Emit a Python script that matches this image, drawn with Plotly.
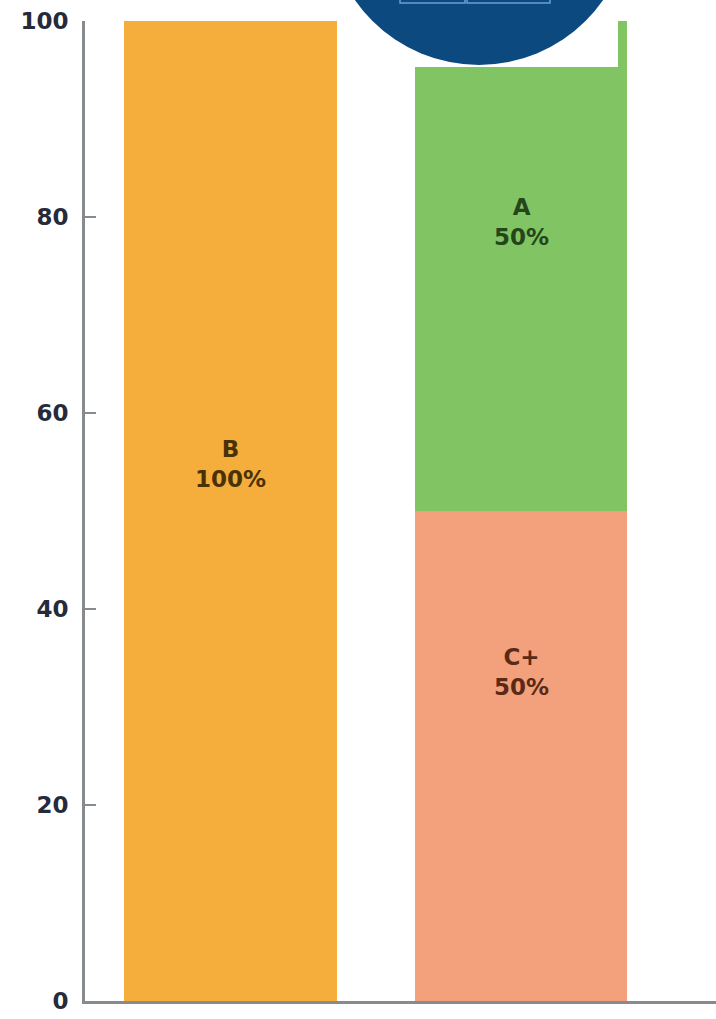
import plotly.graph_objects as go

# Grade distribution per group (percent of students)
groups = [0, 1]
grade_b = [100, 0]
grade_c_plus = [0, 50]
grade_a = [0, 50]
y_ticks = [0, 20, 40, 60, 80, 100]

orange = "#F5AE3C"
green = "#81C464"
salmon = "#F2A17C"
axis_grey = "#878B8D"
font_family = "DejaVu Sans"

fig = go.Figure()
bar_w = 0.733
fig.add_trace(go.Bar(x=[groups[0]], y=[grade_b[0]], marker_color=orange,
                     width=bar_w, name="B", marker_line_width=0))
fig.add_trace(go.Bar(x=[groups[1]], y=[grade_c_plus[1]], marker_color=salmon,
                     width=bar_w, name="C+", marker_line_width=0))
fig.add_trace(go.Bar(x=[groups[1]], y=[grade_a[1]], marker_color=green,
                     width=bar_w, name="A", marker_line_width=0))

# in-bar labels (name + share)
labels = [
    (groups[0], "B", grade_b[0], 54.8, "#4A3208"),
    (groups[1], "A", grade_a[1], 79.5, "#24461A"),
    (groups[1], "C+", grade_c_plus[1], 33.6, "#5A2A16"),
]
annotations = []
for gx, name, val, ypos, col in labels:
    annotations.append(dict(
        x=gx, y=ypos, xref="x", yref="y", showarrow=False,
        text=f"<b>{name}</b><br><b>{val}%</b>", align="center",
        font=dict(family=font_family, size=23, color=col),
    ))

PLOT_L, PLOT_W, PLOT_B, PLOT_H = 85, 631, 1001, 980


def px_x(p):
    return (p - PLOT_L) / PLOT_W


def px_y(p):
    return (PLOT_B - p) / PLOT_H


badge = "#0B497E"
shapes = [
    # white panel behind the badge
    dict(type="rect", xref="paper", yref="paper",
         x0=px_x(345), x1=px_x(618), y0=px_y(67), y1=px_y(-5),
         fillcolor="white", line_width=0, layer="above"),
    # dark blue round badge
    dict(type="circle", xref="paper", yref="paper",
         x0=px_x(328), x1=px_x(630), y0=px_y(65), y1=px_y(-237),
         fillcolor=badge, line_width=0, layer="above"),
    dict(type="rect", xref="paper", yref="paper",
         x0=px_x(400), x1=px_x(465), y0=px_y(3), y1=px_y(-2),
         fillcolor=badge, line=dict(color="#6C9ED3", width=1.5), layer="above"),
    dict(type="rect", xref="paper", yref="paper",
         x0=px_x(467), x1=px_x(550), y0=px_y(3), y1=px_y(-2),
         fillcolor=badge, line=dict(color="#6C9ED3", width=1.5), layer="above"),
]

fig.update_layout(
    width=716, height=1019,
    margin=dict(l=PLOT_L, r=0, t=21, b=18),
    barmode="stack",
    showlegend=False,
    plot_bgcolor="white",
    paper_bgcolor="white",
    annotations=annotations,
    shapes=shapes,
    xaxis=dict(range=[-0.5009, 1.6712], showticklabels=False, showgrid=False,
               zeroline=False, showline=True, linecolor=axis_grey, linewidth=3,
               ticks=""),
    yaxis=dict(range=[0, 100], tickvals=y_ticks, showgrid=False, zeroline=False,
               showline=True, linecolor=axis_grey, linewidth=3,
               ticks="inside", ticklen=11, tickwidth=2, tickcolor=axis_grey,
               ticklabelstandoff=9,
               tickfont=dict(family=font_family, size=23, color="#262B3C",
                             weight="bold")),
)

fig.write_html("out.html")
